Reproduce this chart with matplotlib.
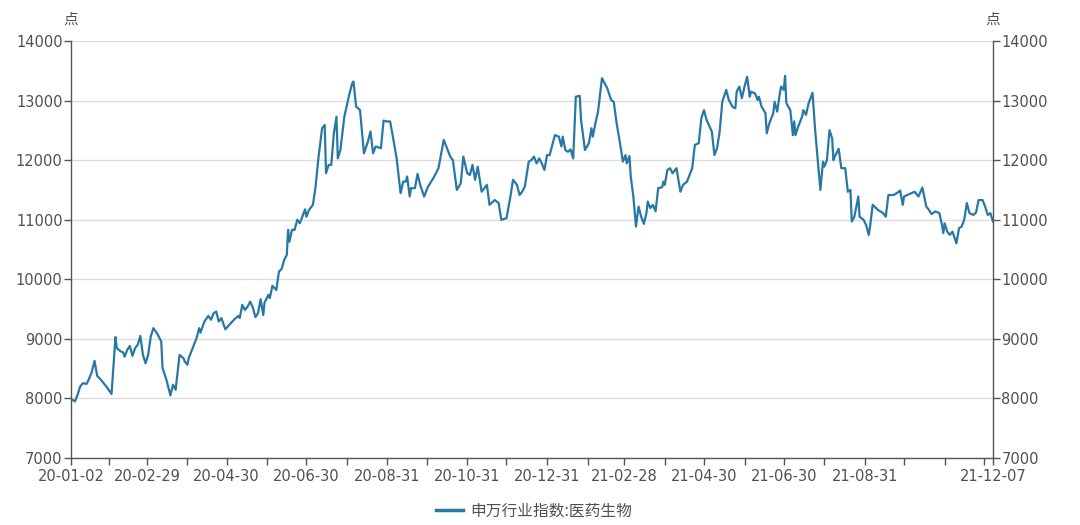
import matplotlib
matplotlib.use("Agg")
import matplotlib.pyplot as plt
import pandas as pd

plt.rcParams['font.family'] = ['DejaVu Sans', 'Noto Sans CJK SC']

dates = [
    "2020-01-02", "2020-01-05", "2020-01-07", "2020-01-09", "2020-01-11", "2020-01-14", "2020-01-16",
    "2020-01-18", "2020-01-20", "2020-01-22", "2020-01-25", "2020-01-29", "2020-02-02", "2020-02-05",
    "2020-02-06", "2020-02-09", "2020-02-11", "2020-02-12", "2020-02-14", "2020-02-16", "2020-02-18",
    "2020-02-20", "2020-02-22", "2020-02-24", "2020-02-26", "2020-02-28", "2020-03-01", "2020-03-03",
    "2020-03-05", "2020-03-08", "2020-03-11", "2020-03-12", "2020-03-15", "2020-03-18", "2020-03-20",
    "2020-03-22", "2020-03-25", "2020-03-28", "2020-03-29", "2020-03-31", "2020-04-01", "2020-04-04",
    "2020-04-07", "2020-04-09", "2020-04-10", "2020-04-13", "2020-04-16", "2020-04-18", "2020-04-20",
    "2020-04-22", "2020-04-24", "2020-04-26", "2020-04-29", "2020-05-02", "2020-05-06", "2020-05-09",
    "2020-05-10", "2020-05-12", "2020-05-14", "2020-05-16", "2020-05-18", "2020-05-20", "2020-05-22",
    "2020-05-24", "2020-05-26", "2020-05-28", "2020-05-29", "2020-06-01", "2020-06-02", "2020-06-04",
    "2020-06-07", "2020-06-09", "2020-06-11", "2020-06-13", "2020-06-15", "2020-06-16", "2020-06-17",
    "2020-06-19", "2020-06-21", "2020-06-23", "2020-06-25", "2020-06-29", "2020-06-30", "2020-07-02",
    "2020-07-05", "2020-07-07", "2020-07-09", "2020-07-12", "2020-07-14", "2020-07-15", "2020-07-17",
    "2020-07-19", "2020-07-21", "2020-07-23", "2020-07-24", "2020-07-26", "2020-07-29", "2020-08-02",
    "2020-08-04", "2020-08-05", "2020-08-07", "2020-08-10", "2020-08-13", "2020-08-16", "2020-08-18",
    "2020-08-20", "2020-08-22", "2020-08-26", "2020-08-28", "2020-08-30", "2020-09-02", "2020-09-05",
    "2020-09-07", "2020-09-10", "2020-09-12", "2020-09-14", "2020-09-15", "2020-09-17", "2020-09-18",
    "2020-09-21", "2020-09-23", "2020-09-25", "2020-09-28", "2020-10-01", "2020-10-05", "2020-10-09",
    "2020-10-13", "2020-10-15", "2020-10-18", "2020-10-20", "2020-10-23", "2020-10-26", "2020-10-28",
    "2020-10-31", "2020-11-02", "2020-11-04", "2020-11-06", "2020-11-08", "2020-11-11", "2020-11-15",
    "2020-11-17", "2020-11-21", "2020-11-24", "2020-11-26", "2020-11-30", "2020-12-03", "2020-12-05",
    "2020-12-08", "2020-12-10", "2020-12-12", "2020-12-14", "2020-12-17", "2020-12-19", "2020-12-21",
    "2020-12-23", "2020-12-25", "2020-12-27", "2020-12-29", "2020-12-31",
    "2021-01-02", "2021-01-06", "2021-01-09", "2021-01-11", "2021-01-12", "2021-01-14", "2021-01-16",
    "2021-01-18", "2021-01-20", "2021-01-22", "2021-01-25", "2021-01-26", "2021-01-29", "2021-02-01",
    "2021-02-03", "2021-02-04", "2021-02-06", "2021-02-08", "2021-02-11", "2021-02-15", "2021-02-18",
    "2021-02-20", "2021-02-22", "2021-02-25", "2021-02-27", "2021-03-01", "2021-03-02", "2021-03-04",
    "2021-03-05", "2021-03-07", "2021-03-09", "2021-03-11", "2021-03-13", "2021-03-15", "2021-03-17",
    "2021-03-18", "2021-03-20", "2021-03-22", "2021-03-24", "2021-03-26", "2021-03-29", "2021-03-30",
    "2021-03-31", "2021-04-02", "2021-04-04", "2021-04-06", "2021-04-09", "2021-04-10", "2021-04-12",
    "2021-04-14", "2021-04-17", "2021-04-21", "2021-04-23", "2021-04-26", "2021-04-28", "2021-04-30",
    "2021-05-02", "2021-05-06", "2021-05-08", "2021-05-10", "2021-05-12", "2021-05-14", "2021-05-17",
    "2021-05-19", "2021-05-22", "2021-05-24", "2021-05-25", "2021-05-27", "2021-05-29", "2021-05-31",
    "2021-06-02", "2021-06-04", "2021-06-05", "2021-06-08", "2021-06-10", "2021-06-11", "2021-06-13",
    "2021-06-16", "2021-06-17", "2021-06-19", "2021-06-22", "2021-06-23", "2021-06-25", "2021-06-27",
    "2021-06-28", "2021-06-30", "2021-07-01", "2021-07-02", "2021-07-05", "2021-07-07", "2021-07-08",
    "2021-07-09", "2021-07-11", "2021-07-14", "2021-07-15", "2021-07-17", "2021-07-19", "2021-07-22",
    "2021-07-24", "2021-07-26", "2021-07-28", "2021-07-30", "2021-07-31", "2021-08-02", "2021-08-04",
    "2021-08-06", "2021-08-07", "2021-08-08", "2021-08-11", "2021-08-13", "2021-08-16", "2021-08-18",
    "2021-08-20", "2021-08-21", "2021-08-23", "2021-08-26", "2021-08-27", "2021-08-30", "2021-09-01",
    "2021-09-03", "2021-09-04", "2021-09-06", "2021-09-10", "2021-09-14", "2021-09-16", "2021-09-18",
    "2021-09-22", "2021-09-25", "2021-09-27", "2021-09-29", "2021-09-30", "2021-10-04", "2021-10-08",
    "2021-10-11", "2021-10-14", "2021-10-17", "2021-10-19", "2021-10-21", "2021-10-24", "2021-10-27",
    "2021-10-29", "2021-10-30", "2021-10-31", "2021-11-02", "2021-11-04", "2021-11-06", "2021-11-09",
    "2021-11-11", "2021-11-13", "2021-11-15", "2021-11-17", "2021-11-19", "2021-11-22", "2021-11-24",
    "2021-11-26", "2021-11-29", "2021-12-01", "2021-12-03", "2021-12-05", "2021-12-07",
]

values = [
    7990, 7950, 8060, 8200, 8255, 8245, 8340,
    8450, 8630, 8380, 8310, 8200, 8075, 9030,
    8845, 8790, 8770, 8700, 8815, 8880, 8715,
    8845, 8900, 9050, 8730, 8590, 8730, 9040,
    9180, 9085, 8955, 8510, 8310, 8050, 8230,
    8145, 8730, 8675, 8620, 8565, 8675, 8845,
    9010, 9180, 9105, 9290, 9385, 9320, 9430,
    9460, 9290, 9350, 9160, 9235, 9330, 9385,
    9350, 9570, 9485, 9540, 9625, 9530, 9365,
    9430, 9665, 9400, 9610, 9740, 9685, 9890,
    9820, 10130, 10170, 10325, 10410, 10830, 10630,
    10830, 10830, 11000, 10940, 11175, 11050, 11165,
    11250, 11555, 12000, 12535, 12590, 11780, 11920,
    11920, 12450, 12730, 12030, 12170, 12730, 13120,
    13290, 13320, 12900, 12840, 12115, 12310, 12480,
    12115, 12230, 12200, 12665, 12650, 12650, 12285,
    12030, 11445, 11640, 11640, 11725, 11390, 11530,
    11530, 11770, 11585, 11390, 11555, 11695, 11865,
    12340, 12230, 12060, 12000, 11500, 11610, 12060,
    11780, 11750, 11920, 11670, 11890, 11470, 11585,
    11250, 11330, 11280, 11000, 11025, 11390, 11670,
    11585, 11415, 11470, 11555, 11975, 12000, 12060,
    11945, 12030, 11945, 11835, 12085,
    12085, 12420, 12395, 12230, 12395, 12170, 12140,
    12180, 12030, 13065, 13080, 12675, 12170, 12285,
    12535, 12395, 12620, 12815, 13375, 13210, 13010,
    12980, 12650, 12255, 11975, 12085, 11945, 12070,
    11725, 11390, 10885, 11220, 11050, 10930, 11110,
    11305, 11195, 11250, 11140, 11530, 11545, 11640,
    11585, 11835, 11865, 11780, 11865, 11725, 11470,
    11585, 11640, 11865, 12255, 12285, 12705, 12840,
    12675, 12480, 12085, 12200, 12480, 12980, 13180,
    13010, 12890, 12870, 13150, 13235, 13040, 13235,
    13400, 13065, 13150, 13120, 13010, 13065, 12900,
    12790, 12450, 12620, 12790, 12980, 12815, 13120,
    13235, 13180, 13415, 12955, 12840, 12420, 12650,
    12420, 12560, 12730, 12840, 12760, 12955, 13130,
    12505, 12000, 11500, 11975, 11890, 12000, 12505,
    12365, 12000, 12060, 12190, 11865, 11865, 11470,
    11500, 10970, 11050, 11390, 11050, 11000, 10910,
    10745, 10885, 11250, 11165, 11110, 11050, 11415,
    11415, 11455, 11490, 11250, 11390, 11430, 11470,
    11390, 11540, 11220, 11165, 11095, 11140, 11110,
    10910, 10775, 10940, 10800, 10745, 10800, 10605,
    10855, 10885, 11000, 11280, 11110, 11080, 11120,
    11330, 11330, 11220, 11080, 11110, 10970,
]

series_name = "申万行业指数:医药生物"
unit_label = "点"
y_ticks = [7000, 8000, 9000, 10000, 11000, 12000, 13000, 14000]
x_start = "2020-01-02"
x_end = "2021-12-07"
month_end_ticks = [
    "2020-01-31", "2020-02-29", "2020-03-31", "2020-04-30", "2020-05-31", "2020-06-30",
    "2020-07-31", "2020-08-31", "2020-09-30", "2020-10-31", "2020-11-30", "2020-12-31",
    "2021-01-31", "2021-02-28", "2021-03-31", "2021-04-30", "2021-05-31", "2021-06-30",
    "2021-07-31", "2021-08-31", "2021-09-30", "2021-10-31", "2021-11-30",
]
labeled_ticks = ["2020-02-29", "2020-04-30", "2020-06-30", "2020-08-31", "2020-10-31",
                 "2020-12-31", "2021-02-28", "2021-04-30", "2021-06-30", "2021-08-31"]

x = pd.to_datetime(dates)
line_color = "#2878a6"
axis_color = "#555555"
text_color = "#505050"
cjk = ['Noto Sans CJK SC', 'DejaVu Sans']

fig = plt.figure(figsize=(10.8, 5.25), dpi=100)
ax = fig.add_axes([71/1080, 1 - 458/525, (993 - 71)/1080, (458 - 41)/525])

ax.plot(x, values, color=line_color, lw=1.6, solid_joinstyle="round")

ax.set_xlim(pd.Timestamp(x_start), pd.Timestamp(x_end))
ax.set_ylim(7000, 14000)
ax.set_yticks(y_ticks)
ax.set_yticklabels([str(v) for v in y_ticks])
ax.grid(axis="y", color="#dcdcdc", lw=1)
ax.set_axisbelow(True)

tick_dates = [pd.Timestamp(x_start)] + [pd.Timestamp(d) for d in month_end_ticks] + [pd.Timestamp(x_end)]
tick_labels = []
for d in tick_dates:
    s = d.strftime("%Y-%m-%d")
    if s == x_start or s == x_end or s in labeled_ticks:
        tick_labels.append(d.strftime("%y-%m-%d"))
    else:
        tick_labels.append("")
ax.set_xticks(tick_dates)
ax.set_xticklabels(tick_labels)

ax.spines["top"].set_visible(False)
for side in ["left", "right", "bottom"]:
    ax.spines[side].set_color(axis_color)
    ax.spines[side].set_linewidth(1.0)

ax.tick_params(axis="y", which="both", left=True, right=True, labelleft=True, labelright=True,
               direction="out", length=5, width=1, color=axis_color, labelcolor=text_color,
               labelsize=10.5, pad=1)
ax.tick_params(axis="x", direction="out", length=5, width=1, color=axis_color,
               labelcolor=text_color, labelsize=10.5, pad=3)

fig.text(71/1080, 1 - 20/525, unit_label, ha="center", va="center", fontsize=10.5,
         color=text_color, family=cjk)
fig.text(993/1080, 1 - 20/525, unit_label, ha="center", va="center", fontsize=10.5,
         color=text_color, family=cjk)

leg = fig.legend([ax.lines[0]], [series_name], loc="center", bbox_to_anchor=(534/1080, 1 - 511/525),
                 frameon=False, prop={'family': cjk, 'size': 11.3}, handlelength=1.7,
                 handletextpad=0.45)
for t in leg.get_texts():
    t.set_color(text_color)
for h in leg.legend_handles:
    h.set_linewidth(2.5)

fig.savefig("out.png", dpi=100, facecolor="white")
